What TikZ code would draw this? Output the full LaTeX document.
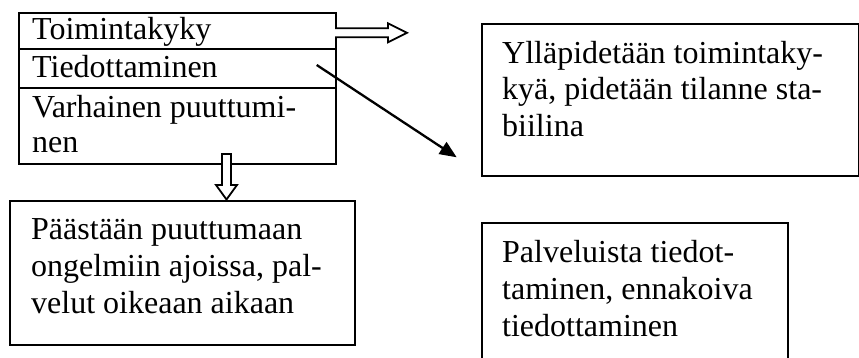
\documentclass[tikz,border=0pt]{standalone}
\usepackage{fontspec}
\setmainfont{Liberation Serif}
\usetikzlibrary{arrows.meta}
\begin{document}
\begin{tikzpicture}[x=1pt,y=-1pt,
  txt/.style={anchor=base west, inner sep=0pt, font=\fontsize{32}{37}\selectfont},
  box/.style={draw, line width=2.3pt, inner sep=0pt, anchor=north west},
  blockarrow/.style={draw, fill=white, line width=1.8pt, line join=miter},
  link/.style={draw, line width=2.3pt, -{Triangle[length=17pt,width=14pt]}}]
\useasboundingbox (0,0) rectangle (859,358);
\clip (0,0) rectangle (859,358);

% list of measures
\node[box, minimum width=317pt, minimum height=151pt] (list) at (18,12) {};
\draw[line width=2.3pt] (18,49) -- (335,49);
\draw[line width=2.3pt] (18,88) -- (335,88);
\node[txt] (l1) at (32,40) {Toimintakyky};
\node[txt] (l2) at (32,78) {Tiedottaminen};
\node[txt] (l3) at (32,117.3) {Varhainen puuttumi-};
\node[txt] (l4) at (32,153) {nen};

% outcome boxes
\node[box, minimum width=377pt, minimum height=152pt] (keep) at (481,23) {};
\node[txt] (k1) at (502,63.3) {Ylläpidetään toimintaky-};
\node[txt] (k2) at (502,100) {kyä, pidetään tilanne sta-};
\node[txt] (k3) at (502,136.7) {biilina};

\node[box, minimum width=345pt, minimum height=144pt] (early) at (9,200) {};
\node[txt] (e1) at (31,240) {Päästään puuttumaan};
\node[txt] (e2) at (31,276.7) {ongelmiin ajoissa, pal-};
\node[txt] (e3) at (31,313.3) {velut oikeaan aikaan};

\node[box, minimum width=306pt, minimum height=170pt] (info) at (481,222) {};
\node[txt] (i1) at (502,262.7) {Palveluista tiedot-};
\node[txt] (i2) at (502,299.3) {taminen, ennakoiva};
\node[txt] (i3) at (502,336) {tiedottaminen};

% hollow block arrows
\path[blockarrow] (335,28.3) -- (388,28.3) -- (388,23.3) -- (407,32.8)
  -- (388,42.3) -- (388,37.3) -- (335,37.3);
\path[blockarrow] (222,154) -- (231,154) -- (231,185) -- (237,185)
  -- (226.5,199.5) -- (216,185) -- (222,185) -- cycle;

% line arrow
\coordinate (d1) at (316.7,65);
\coordinate (d2) at (456.7,157.3);
\draw[link] (d1) -- (d2);
\end{tikzpicture}
\end{document}
